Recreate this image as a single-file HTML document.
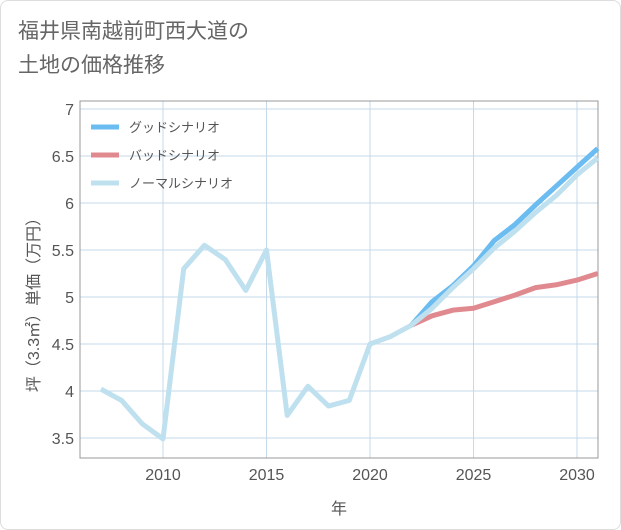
<!DOCTYPE html>
<html><head><meta charset="utf-8"><style>
body{margin:0;background:#fff;}
#wrap{position:relative;width:619px;height:528px;border:1px solid #ddd;border-radius:8px;background:#fff;font-family:"Liberation Sans","Noto Sans CJK JP",sans-serif;overflow:hidden}
#title{position:absolute;left:17px;top:14px;font-size:21px;line-height:34px;color:#666;}
svg{position:absolute;left:0;top:0}
</style></head><body>
<div id="wrap">
<div id="title">福井県南越前町西大道の<br>土地の価格推移</div>
<svg id="chart" width="621" height="530"></svg>
</div>
<script>
const years=[2007,2008,2009,2010,2011,2012,2013,2014,2015,2016,2017,2018,2019,2020,2021,2022,2023,2024,2025,2026,2027,2028,2029,2030,2031];
const normal=[4.02,3.9,3.65,3.49,5.3,5.55,5.4,5.07,5.5,3.74,4.05,3.84,3.9,4.5,4.58,4.7,4.88,5.1,5.3,5.52,5.7,5.9,6.08,6.3,6.48];
const goodYears=[2022,2023,2024,2025,2026,2027,2028,2029,2030,2031];
const good=[4.7,4.95,5.12,5.33,5.6,5.77,5.98,6.18,6.38,6.58];
const bad=[4.7,4.8,4.86,4.88,4.95,5.02,5.1,5.13,5.18,5.25];
const yTicks=[3.5,4,4.5,5,5.5,6,6.5,7];
const xTicks=[2010,2015,2020,2025,2030];
const NS='http://www.w3.org/2000/svg';
const svg=document.getElementById('chart');
const L=79,R=597,T=100,B=457;
const x=v=>162+(v-2010)*(576-162)/20;
const y=v=>437-(v-3.5)*(437-108)/3.5;
function mk(t,a){const e=document.createElementNS(NS,t);for(const k in a)e.setAttribute(k,a[k]);svg.appendChild(e);return e;}
yTicks.forEach(v=>{
 const g=mk('line',{x1:L,x2:R,y1:y(v),y2:y(v),stroke:'#c5d9e8','stroke-width':1});
 
 
 const t=mk('text',{x:L-6,y:y(v)+6,'text-anchor':'end','font-size':16,fill:'#555'});t.textContent=v;
 
 
});
xTicks.forEach(v=>{
 const g=mk('line',{x1:x(v),x2:x(v),y1:T,y2:B,stroke:'#c5d9e8','stroke-width':1});
 
 
 const t=mk('text',{x:x(v),y:B+22,'text-anchor':'middle','font-size':16,fill:'#555'});t.textContent=v;
 
 
});
const fr=mk('rect',{x:L,y:T,width:R-L,height:B-T,fill:'none',stroke:'#999','stroke-width':1});


function line(xs,vs,col,name){
 const p=mk('polyline',{points:xs.map((xx,i)=>x(xx)+','+y(vs[i])).join(' '),fill:'none',stroke:col,'stroke-width':5,'stroke-linejoin':'round'});
 
 
}
line(goodYears,good,'#6bbcf0','good-scenario-line');
line(goodYears,bad,'#e08a90','bad-scenario-line');
line(years,normal,'#bfe0ee','normal-scenario-line');
const leg=[['グッドシナリオ','#6bbcf0'],['バッドシナリオ','#e08a90'],['ノーマルシナリオ','#bfe0ee']];
leg.forEach((l,i)=>{
 const yy=126+i*28;
 const s=mk('line',{x1:90,x2:118,y1:yy,y2:yy,stroke:l[1],'stroke-width':5});
 
 
 const t=mk('text',{x:128,y:yy+5,'font-size':13,fill:'#555'});t.textContent=l[0];
 
 
});
const xt=mk('text',{x:338,y:513,'text-anchor':'middle','font-size':16,fill:'#555'});xt.textContent='年';


const yt=mk('text',{x:0,y:0,'text-anchor':'middle','font-size':16,fill:'#555',transform:'translate(38,300) rotate(-90)'});yt.textContent='坪（3.3㎡）単価（万円）';


</script>
</body></html>
